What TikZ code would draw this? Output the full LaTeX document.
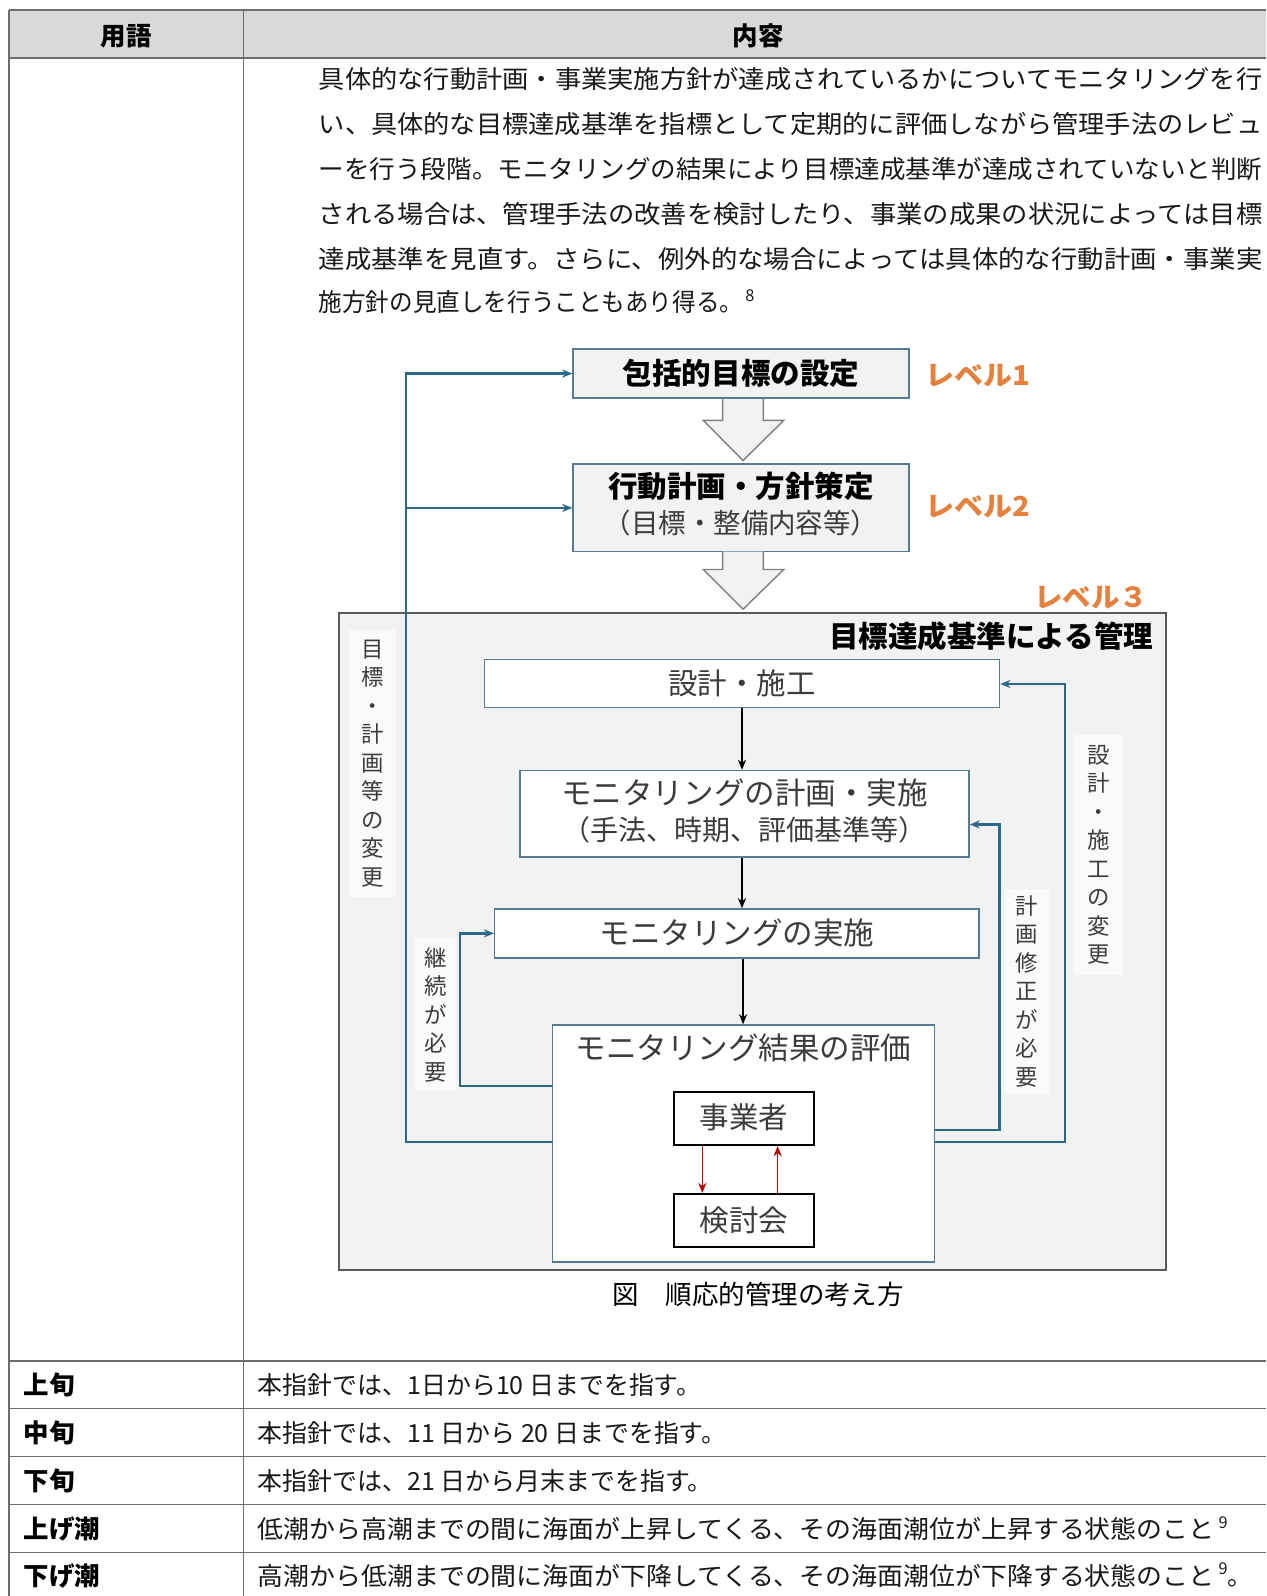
\documentclass[tikz,border=0pt]{standalone}
\usepackage{fontspec}
\usepackage{graphicx}
\setmainfont{Noto Sans CJK JP}
\usetikzlibrary{arrows.meta}
\definecolor{hdr}{HTML}{D9D9D9}
\definecolor{grid}{HTML}{6E6E6E}
\definecolor{boxb}{HTML}{557C95}
\definecolor{flowb}{HTML}{2C688C}
\definecolor{lvl}{HTML}{E5803D}
\definecolor{panel}{HTML}{F2F2F2}
\definecolor{panelb}{HTML}{5A5A5A}
\definecolor{lab}{HTML}{FAFAFA}
\definecolor{txt}{HTML}{3C3C3C}
\definecolor{redarr}{HTML}{C00000}
\definecolor{harr}{HTML}{808080}
\newcommand{\fs}[1]{\fontsize{#1}{#1}\selectfont}
\newcommand{\fitto}[2]{\resizebox{#1}{\height}{#2}}
\begin{document}
\begin{tikzpicture}[x=1pt,y=-1pt,
  t/.style={inner sep=0pt, anchor=base},
  tw/.style={inner sep=0pt, anchor=base west},
  te/.style={inner sep=0pt, anchor=base east},
  gridline/.style={draw=grid, line width=1.4pt},
  lvbox/.style={draw=boxb, line width=1.4pt, fill=panel, inner sep=0pt},
  wbox/.style={draw=boxb, line width=1.4pt, fill=white, inner sep=0pt},
  kbox/.style={draw=black, line width=2pt, fill=white, inner sep=0pt},
  flowline/.style={draw=flowb, line width=2.2pt},
  flow/.style={flowline, -{Stealth[length=10pt,width=8pt]}},
  blk/.style={draw=black, line width=1.6pt, -{Stealth[length=10pt,width=8pt]}},
  redar/.style={draw=redarr, line width=1.6pt, -{Stealth[length=10pt,width=8pt]}},
  vlab/.style={fill=lab, inner sep=0pt, align=center, text=txt, font=\fontsize{22}{28}\selectfont},
  harrow/.style={draw=harr, line width=1.4pt, fill=panel, line join=miter},
  para/.style={tw, font=\fs{24.5}, text=black!90},
  term/.style={tw, font=\bfseries\fs{25}},
  btxt/.style={t, font=\fs{29}, text=txt},
  lvtxt/.style={tw, font=\bfseries\fs{27}, text=lvl}
]
\useasboundingbox (0,0) rectangle (1244,1568);
\fill[white] (0,0) rectangle (1244,1568);

% ---------- table ----------
\fill[hdr] (9,10) rectangle (1244,57);
\draw[gridline] (9,10) -- (1244,10);
\draw[gridline] (9,57) -- (1244,57);
\draw[gridline] (9,10) -- (9,1568);
\draw[gridline] (239,10) -- (239,1568);
\foreach \yy in {1337,1384,1431,1478,1525} {\draw[gridline] (9,\yy) -- (1244,\yy);}

\node[t, font=\bfseries\fs{25}] (h1) at (124,44.5) {用語};
\node[t, font=\bfseries\fs{25}] (h2) at (745,44.5) {内容};

\node[para] (p1) at (313,87.3) {\fitto{927pt}{具体的な行動計画・事業実施方針が達成されているかについてモニタリングを行}};
\node[para] (p2) at (313,131.3) {\fitto{927pt}{い、具体的な目標達成基準を指標として定期的に評価しながら管理手法のレビュ}};
\node[para] (p3) at (313,175.3) {\fitto{927pt}{ーを行う段階。モニタリングの結果により目標達成基準が達成されていないと判断}};
\node[para] (p4) at (313,219.3) {\fitto{927pt}{される場合は、管理手法の改善を検討したり、事業の成果の状況によっては目標}};
\node[para] (p5) at (313,263.3) {\fitto{927pt}{達成基準を見直す。さらに、例外的な場合によっては具体的な行動計画・事業実}};
\node[para] (p6) at (313,306.3) {\fitto{417pt}{施方針の見直しを行うこともあり得る。}\hspace{2pt}\raisebox{10pt}{\fs{16}8}};

\node[term] (r1) at (23,1370.5) {上旬};
\node[term] (r2) at (23,1417.5) {中旬};
\node[term] (r3) at (23,1464.5) {下旬};
\node[term] (r4) at (23,1511.5) {上げ潮};
\node[term] (r5) at (23,1557.5) {下げ潮};

\node[para] (d1) at (253,1370.2) {本指針では、1日から10 日までを指す。};
\node[para] (d2) at (253,1417.2) {本指針では、11 日から 20 日までを指す。};
\node[para] (d3) at (253,1464.2) {本指針では、21 日から月末までを指す。};
\node[para] (d4) at (253,1511.2) {\fitto{940pt}{低潮から高潮までの間に海面が上昇してくる、その海面潮位が上昇する状態のこと}\hspace{4pt}\raisebox{10pt}{\fs{16}9}};
\node[para] (d5) at (253,1557.2) {\fitto{940pt}{高潮から低潮までの間に海面が下降してくる、その海面潮位が下降する状態のこと}\hspace{4pt}\raisebox{10pt}{\fs{16}9}。};

% ---------- diagram ----------
\node[draw=panelb, line width=2pt, fill=panel, minimum width=813pt, minimum height=646pt, inner sep=0pt] (panel) at (739.5,925) {};

\node[lvbox, minimum width=330pt, minimum height=48pt] (b1) at (728,367) {};
\node[t, font=\bfseries\fs{29}] (b1t) at (728,378) {包括的目標の設定};
\node[lvbox, minimum width=330pt, minimum height=86pt] (b2) at (728,499) {};
\node[t, font=\bfseries\fs{29}] (b2t) at (728,489) {行動計画・方針策定};
\node[t, font=\fs{27}, text=txt] (b2u) at (728,524) {（目標・整備内容等）};

\node[lvtxt] (lv1) at (909,379) {\fitto{103pt}{レベル1}};
\node[lvtxt] (lv2) at (909,507) {\fitto{103pt}{レベル2}};
\node[lvtxt] (lv3) at (1016,597) {\fitto{112pt}{レベル３}};

% hollow arrows
\fill[panel] (710,392) -- (710,413) -- (691,413) -- (730,452.5) -- (770,413) -- (750,413) -- (750,392) -- cycle;
\draw[harrow, fill=none] (710,392) -- (710,413) -- (691,413) -- (730,452.5) -- (770,413) -- (750,413) -- (750,392);
\fill[panel] (710,542) -- (710,559.5) -- (691,559.5) -- (730,598.5) -- (770,559.5) -- (750,559.5) -- (750,542) -- cycle;
\draw[harrow, fill=none] (710,542) -- (710,559.5) -- (691,559.5) -- (730,598.5) -- (770,559.5) -- (750,559.5) -- (750,542);

\node[te, font=\bfseries\fs{29}] (ttl) at (1133,636) {目標達成基準による管理};

\node[wbox, minimum width=506pt, minimum height=47pt] (sek) at (729,671.5) {};
\node[btxt] (sekt) at (729,682) {設計・施工};
\node[wbox, minimum width=441pt, minimum height=85pt] (plan) at (731.5,799.5) {};
\node[btxt, font=\fs{30}] (plant) at (731.5,790.5) {モニタリングの計画・実施};
\node[btxt, font=\fs{27.5}] (planu) at (731.5,825.5) {（手法、時期、評価基準等）};
\node[wbox, minimum width=476pt, minimum height=48pt] (mon) at (724,917) {};
\node[btxt, font=\fs{30}] (mont) at (724,927.5) {モニタリングの実施};
\node[wbox, minimum width=375pt, minimum height=233pt] (ev) at (730.5,1123.5) {};
\node[btxt, font=\fs{30}] (evt) at (730.5,1040.5) {モニタリング結果の評価};
\node[kbox, minimum width=138pt, minimum height=52pt] (jig) at (731,1099) {};
\node[btxt] (jigt) at (731,1109) {事業者};
\node[kbox, minimum width=138pt, minimum height=52pt] (ken) at (731,1199) {};
\node[btxt] (kent) at (731,1210) {検討会};

% black flow
\draw[blk] (sek.south -| 729,0) -- (plan.north -| 729,0);
\draw[blk] (plan.south -| 729,0) -- (mon.north -| 729,0);
\draw[blk] (mon.south -| 730,0) -- (ev.north -| 730,0);
% red arrows
\draw[redar] (jig.south -| 690,0) -- (ken.north -| 690,0);
\draw[redar] (ken.north -| 764,0) -- (jig.south -| 764,0);

% labels (vertical)
\node[vlab, minimum width=46pt, minimum height=262pt] (lbA) at (366,750) {目\\標\\・\\計\\画\\等\\の\\変\\更};
\node[vlab, minimum width=40pt, minimum height=150pt] (lbB) at (428,997) {継\\続\\が\\必\\要};
\node[vlab, minimum width=46pt, minimum height=202pt] (lbC) at (1009,974) {計\\画\\修\\正\\が\\必\\要};
\node[vlab, minimum width=48pt, minimum height=236pt] (lbD) at (1079,840) {設\\計\\・\\施\\工\\の\\変\\更};

% blue feedback lines
\coordinate (cL) at (399,1122);
\draw[flow] (ev.west |- cL) -| (cL |- b1.west) -- (b1.west);
\draw[flow] (cL |- b2.west) -- (b2.west);
\coordinate (cK) at (452,1067);
\draw[flow] (ev.west |- cK) -| (cK |- mon.west) -- (mon.west);
\coordinate (cP) at (982,1110);
\draw[flow] (ev.east |- cP) -| (cP |- 0,810) -- (plan.east |- 0,810);
\coordinate (cS) at (1046,1122);
\draw[flow] (ev.east |- cS) -| (cS |- 0,672) -- (sek.east |- 0,672);

\node[t, font=\fs{26}] (cap) at (745,1282) {図　順応的管理の考え方};
\end{tikzpicture}
\end{document}
